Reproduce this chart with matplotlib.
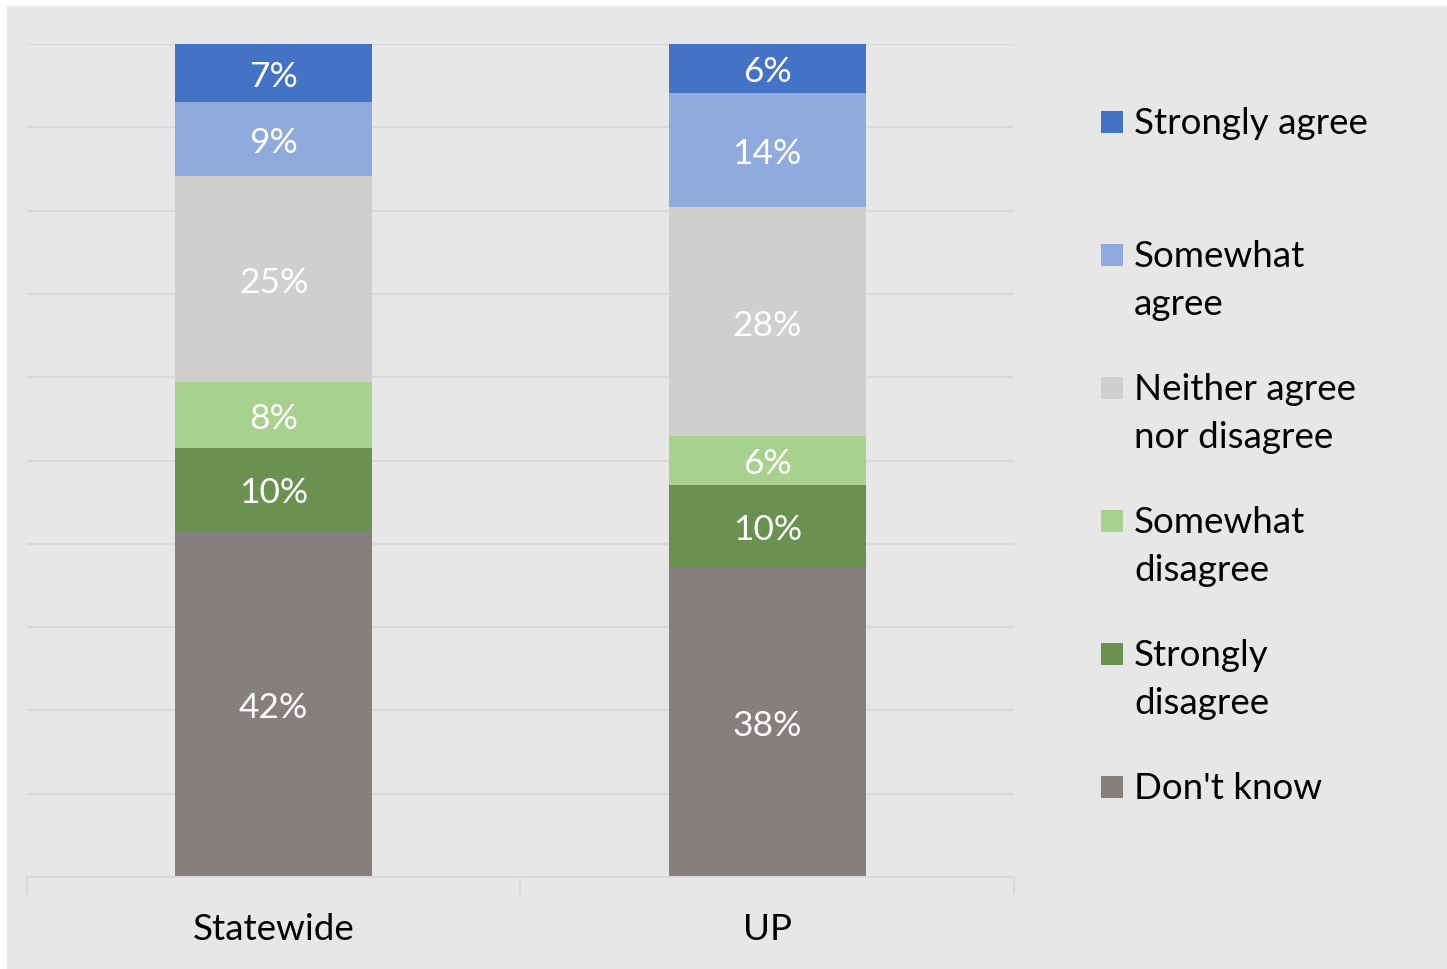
import numpy as np
import matplotlib
matplotlib.use('Agg')
import matplotlib.pyplot as plt
from matplotlib.patches import Rectangle

plt.rcParams['font.family'] = ['Lato', 'DejaVu Sans']

# Daten (Rohwerte in %, Excel normiert auf 100 %)
gruppen = ['Statewide', 'UP']
kategorien = ['Don\'t know', 'Strongly\ndisagree', 'Somewhat\ndisagree',
              'Neither agree\nnor disagree', 'Somewhat\nagree', 'Strongly agree']
werte_statewide = [42, 10, 8, 25, 9, 7]
werte_up = [38, 10, 6, 28, 14, 6]
farben = ['#857F7E', '#6A914F', '#A9D18E', '#D0CECE', '#8FAADC', '#4472C4']

W, H = 1447, 969
fig = plt.figure(figsize=(W / 100, H / 100), dpi=100)
fig.patch.set_facecolor('white')
fig.patches.append(Rectangle((7 / W, 0), 1, 1 - 6 / H, transform=fig.transFigure,
                             facecolor='#E7E7E7', edgecolor='none', zorder=-10))

ax = fig.add_axes([27 / W, 1 - 877 / H, (1014 - 27) / W, (877 - 44) / H])
ax.set_facecolor('none')

daten = np.array([werte_statewide, werte_up], dtype=float)
anteile = daten / daten.sum(axis=1, keepdims=True)
x = np.arange(len(gruppen))
unten = np.zeros(len(gruppen))

for k in range(len(kategorien)):
    ax.bar(x, anteile[:, k], width=0.4, bottom=unten, color=farben[k], zorder=2)
    for i in range(len(gruppen)):
        ax.annotate(f'{int(daten[i, k])}%', (x[i], unten[i] + anteile[i, k] / 2),
                    xytext=(0, -2.8), textcoords='offset points',
                    ha='center', va='center', color='white', fontsize=25.5, zorder=3)
    unten += anteile[:, k]

ax.set_xlim(-0.5, 1.5)
ax.set_ylim(0, 1)
ax.set_yticks(np.linspace(0, 1, 11))
ax.yaxis.grid(True, color='#D9D9D9', linewidth=1.5, zorder=0)
ax.tick_params(axis='y', length=0, labelleft=False)
ax.set_xticks([-0.5, 0.5, 1.5], minor=False)
ax.set_xticklabels([])
ax.tick_params(axis='x', length=12, width=1.5, color='#D9D9D9', direction='out')
for i, g in enumerate(gruppen):
    ax.annotate(g, (x[i], 0), xytext=(0, -37.5), textcoords='offset points',
                ha='center', va='center', fontsize=26.5, annotation_clip=False)
for s in ['top', 'right', 'left']:
    ax.spines[s].set_visible(False)
ax.spines['bottom'].set_color('#D9D9D9')
ax.spines['bottom'].set_linewidth(1.5)

# Legende (oben beginnend mit Strongly agree)
y_pos = [122, 255, 388, 521, 654, 787]
for j, k in enumerate(range(len(kategorien) - 1, -1, -1)):
    yc = 1 - y_pos[j] / H
    fig.patches.append(Rectangle((1101 / W, yc - 11 / H), 22 / W, 22 / H,
                                 transform=fig.transFigure, facecolor=farben[k],
                                 edgecolor='none'))
    fig.text(1134 / W, yc + 15 / H, kategorien[k], ha='left', va='top',
             fontsize=26.5, linespacing=1.55)

fig.savefig('out.png', dpi=100)
